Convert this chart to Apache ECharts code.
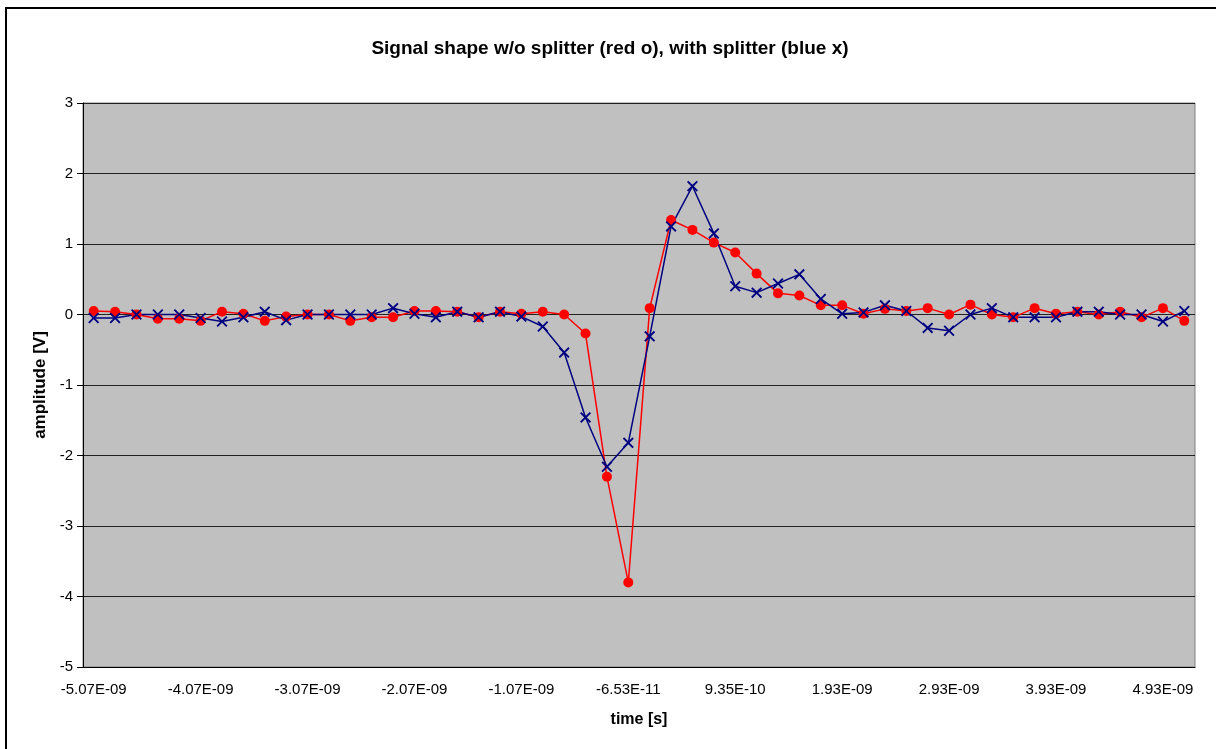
<!DOCTYPE html>
<html>
<head>
<meta charset="utf-8">
<script src="https://cdn.jsdelivr.net/npm/echarts@6/dist/echarts.min.js"></script>
<style>
    html, body {
        margin: 0;
        padding: 0;
        background: #fff;
    }

    #main {
        width: 1216px;
        height: 749px;
    }
</style>
</head>
<body>
<div id="main"></div>
<script>
    // time axis categories (every 5th one is labelled)
    var times = [
        '-5.07E-09', '-4.87E-09', '-4.67E-09', '-4.47E-09', '-4.27E-09',
        '-4.07E-09', '-3.87E-09', '-3.67E-09', '-3.47E-09', '-3.27E-09',
        '-3.07E-09', '-2.87E-09', '-2.67E-09', '-2.47E-09', '-2.27E-09',
        '-2.07E-09', '-1.87E-09', '-1.67E-09', '-1.47E-09', '-1.27E-09',
        '-1.07E-09', '-8.65E-10', '-6.65E-10', '-4.65E-10', '-2.65E-10',
        '-6.53E-11', '1.35E-10', '3.35E-10', '5.35E-10', '7.35E-10',
        '9.35E-10', '1.13E-09', '1.33E-09', '1.53E-09', '1.73E-09',
        '1.93E-09', '2.13E-09', '2.33E-09', '2.53E-09', '2.73E-09',
        '2.93E-09', '3.13E-09', '3.33E-09', '3.53E-09', '3.73E-09',
        '3.93E-09', '4.13E-09', '4.33E-09', '4.53E-09', '4.73E-09',
        '4.93E-09', '5.13E-09'
    ];

    // without splitter (red o)
    var noSplitter = [
        0.05, 0.04, 0, -0.06, -0.06, -0.09, 0.04, 0.01, -0.09, -0.03,
        0, 0, -0.09, -0.04, -0.04, 0.05, 0.05, 0.04, -0.04, 0.04,
        0.01, 0.04, 0, -0.27, -2.30, -3.80, 0.09, 1.34, 1.20, 1.02,
        0.88, 0.58, 0.30, 0.27, 0.13, 0.13, 0.01, 0.08, 0.05, 0.09,
        0, 0.14, 0, -0.04, 0.09, 0.01, 0.04, 0, 0.04, -0.04,
        0.09, -0.09
    ];

    // with splitter (blue x)
    var withSplitter = [
        -0.05, -0.05, 0, 0, 0, -0.05, -0.1, -0.04, 0.04, -0.08,
        0, 0, 0, 0, 0.09, 0.01, -0.04, 0.04, -0.04, 0.04,
        -0.03, -0.17, -0.54, -1.46, -2.16, -1.82, -0.31, 1.25, 1.82, 1.15,
        0.40, 0.31, 0.44, 0.57, 0.22, 0.01, 0.03, 0.13, 0.05, -0.19,
        -0.23, 0, 0.09, -0.04, -0.04, -0.04, 0.04, 0.04, 0, 0,
        -0.1, 0.05
    ];

    var font = 'Arial, "Liberation Sans", sans-serif';
    // filled "x" shape so the marker is drawn like Excel's cross
    var crossSymbol = 'path://M0,1.2L1.2,0L5,3.8L8.8,0L10,1.2L6.2,5L10,8.8L8.8,10L5,6.2L1.2,10L0,8.8L3.8,5Z';

    var myChart = echarts.init(document.getElementById('main'));
    myChart.setOption({
        animation: false,
        backgroundColor: '#fff',
        title: {
            text: 'Signal shape w/o splitter (red o), with splitter (blue x)',
            left: 605,
            top: 34,
            textAlign: 'center',
            textStyle: {
                fontFamily: font,
                fontSize: 19,
                fontWeight: 'bold',
                color: '#000'
            }
        },
        graphic: [
            {
                type: 'rect',
                shape: { x: 6, y: 8, width: 1300, height: 900 },
                style: { fill: 'none', stroke: '#000', lineWidth: 2 }
            }
        ],
        grid: {
            left: 83,
            top: 103,
            width: 1112,
            height: 564,
            show: true,
            backgroundColor: '#C0C0C0',
            borderColor: '#808080',
            borderWidth: 1
        },
        xAxis: {
            type: 'category',
            data: times,
            boundaryGap: true,
            name: 'time [s]',
            nameLocation: 'middle',
            nameGap: 45,
            nameTextStyle: {
                fontFamily: font,
                fontSize: 16,
                fontWeight: 'bold',
                color: '#000'
            },
            axisLine: { onZero: false, lineStyle: { color: '#000', width: 1 } },
            axisTick: { interval: 4, length: 5, lineStyle: { color: '#000' } },
            axisLabel: {
                interval: 4,
                margin: 15,
                fontFamily: font,
                fontSize: 15,
                color: '#000'
            },
            splitLine: { show: false }
        },
        yAxis: {
            type: 'value',
            min: -5,
            max: 3,
            interval: 1,
            name: 'amplitude [V]',
            nameLocation: 'middle',
            nameGap: 34,
            nameTextStyle: {
                fontFamily: font,
                fontSize: 17,
                fontWeight: 'bold',
                color: '#000'
            },
            axisLine: { show: true, lineStyle: { color: '#000', width: 1 } },
            axisTick: { show: true, length: 6, lineStyle: { color: '#000' } },
            axisLabel: {
                margin: 10,
                fontFamily: font,
                fontSize: 15,
                color: '#000'
            },
            splitLine: { show: true, lineStyle: { color: '#222', width: 1 } }
        },
        series: [
            {
                name: 'w/o splitter',
                type: 'line',
                data: noSplitter,
                symbol: 'circle',
                symbolSize: 10,
                lineStyle: { color: '#FF0000', width: 1.5 },
                itemStyle: { color: '#FF0000' }
            },
            {
                name: 'with splitter',
                type: 'line',
                data: withSplitter,
                symbol: crossSymbol,
                symbolSize: 11,
                lineStyle: { color: '#000080', width: 1.5 },
                itemStyle: { color: '#000080' }
            }
        ]
    });
</script>
</body>
</html>
